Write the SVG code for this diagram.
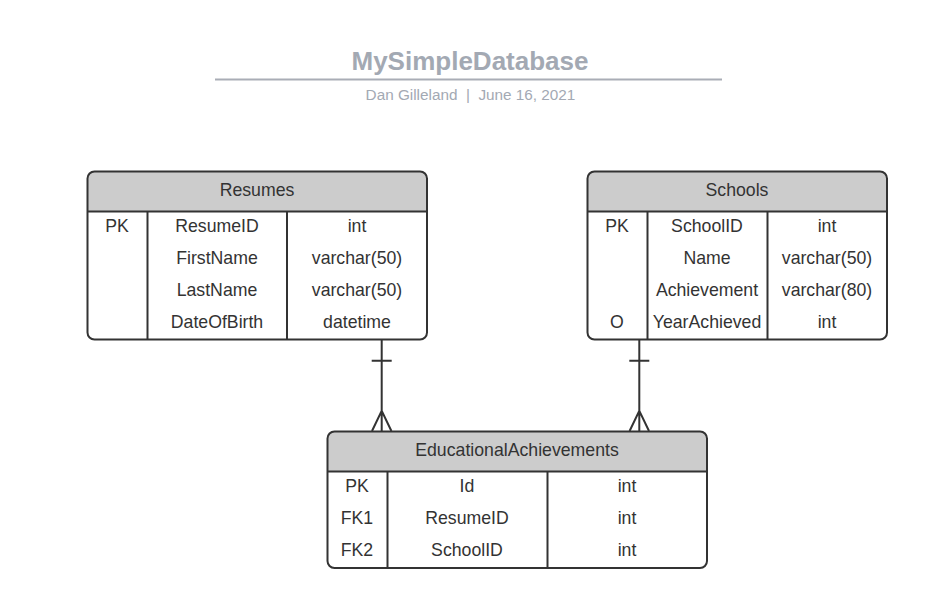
<svg xmlns="http://www.w3.org/2000/svg" width="934" height="608" viewBox="0 0 934 608">
<style>
.title{font-family:"Liberation Sans",Arial,sans-serif;font-weight:bold;font-size:26px;fill:#a3a9b3;text-anchor:middle}
.sub{font-family:"Liberation Sans",Arial,sans-serif;font-size:15.3px;fill:#a3a9b3;text-anchor:middle;white-space:pre}
.t{font-family:"Liberation Sans",Arial,sans-serif;font-size:17.7px;fill:#333333;text-anchor:middle}
.hdr{fill:#cccccc;stroke:none}
.box{fill:none;stroke:#333333;stroke-width:2}
.ln{stroke:#333333;stroke-width:2;fill:none}
</style>
<rect width="934" height="608" fill="#ffffff"/>
<g id="title">
<text class="title" x="470" y="70">MySimpleDatabase</text>
<line x1="215" y1="79.5" x2="722" y2="79.5" stroke="#a9adb6" stroke-width="2"/>
<text class="sub" x="470.5" y="100">Dan Gilleland  |  June 16, 2021</text>
</g>
<g id="resumes">
<rect x="87.5" y="171.5" width="339.5" height="168" rx="7" fill="#ffffff"/>
<path class="hdr" d="M87.5,211 V178.5 a7,7 0 0 1 7,-7 H420 a7,7 0 0 1 7,7 V211 Z"/>
<rect class="box" x="87.5" y="171.5" width="339.5" height="168" rx="7"/>
<line class="ln" x1="87.5" y1="211.5" x2="427" y2="211.5"/>
<line class="ln" x1="147.5" y1="211.5" x2="147.5" y2="339.5"/>
<line class="ln" x1="287" y1="211.5" x2="287" y2="339.5"/>
<text class="t" x="257" y="195.5">Resumes</text>
<text class="t" x="117" y="232">PK</text>
<text class="t" x="217" y="232">ResumeID</text>
<text class="t" x="357" y="232">int</text>
<text class="t" x="217" y="264">FirstName</text>
<text class="t" x="357" y="264">varchar(50)</text>
<text class="t" x="217" y="296">LastName</text>
<text class="t" x="357" y="296">varchar(50)</text>
<text class="t" x="217" y="328">DateOfBirth</text>
<text class="t" x="357" y="328">datetime</text>
</g>
<g id="schools">
<rect x="587.5" y="171.5" width="299.5" height="168" rx="7" fill="#ffffff"/>
<path class="hdr" d="M587.5,211 V178.5 a7,7 0 0 1 7,-7 H880 a7,7 0 0 1 7,7 V211 Z"/>
<rect class="box" x="587.5" y="171.5" width="299.5" height="168" rx="7"/>
<line class="ln" x1="587.5" y1="211.5" x2="887" y2="211.5"/>
<line class="ln" x1="647.5" y1="211.5" x2="647.5" y2="339.5"/>
<line class="ln" x1="767.5" y1="211.5" x2="767.5" y2="339.5"/>
<text class="t" x="737" y="195.5">Schools</text>
<text class="t" x="617" y="232">PK</text>
<text class="t" x="707" y="232">SchoolID</text>
<text class="t" x="827" y="232">int</text>
<text class="t" x="707" y="264">Name</text>
<text class="t" x="827" y="264">varchar(50)</text>
<text class="t" x="707" y="296">Achievement</text>
<text class="t" x="827" y="296">varchar(80)</text>
<text class="t" x="617" y="328">O</text>
<text class="t" x="707" y="328">YearAchieved</text>
<text class="t" x="827" y="328">int</text>
</g>
<g id="educationalachievements">
<rect x="327.5" y="431.5" width="379.5" height="136.5" rx="7" fill="#ffffff"/>
<path class="hdr" d="M327.5,471 V438.5 a7,7 0 0 1 7,-7 H700 a7,7 0 0 1 7,7 V471 Z"/>
<rect class="box" x="327.5" y="431.5" width="379.5" height="136.5" rx="7"/>
<line class="ln" x1="327.5" y1="471.5" x2="707" y2="471.5"/>
<line class="ln" x1="387.5" y1="471.5" x2="387.5" y2="568"/>
<line class="ln" x1="547.5" y1="471.5" x2="547.5" y2="568"/>
<text class="t" x="517" y="455.5">EducationalAchievements</text>
<text class="t" x="357" y="492">PK</text>
<text class="t" x="467" y="492">Id</text>
<text class="t" x="627" y="492">int</text>
<text class="t" x="357" y="524">FK1</text>
<text class="t" x="467" y="524">ResumeID</text>
<text class="t" x="627" y="524">int</text>
<text class="t" x="357" y="556">FK2</text>
<text class="t" x="467" y="556">SchoolID</text>
<text class="t" x="627" y="556">int</text>
</g>
<g id="connectors">
<path class="ln" d="M381.7,340 V431 M371.7,360.7 H391.7 M372,431 L381.7,410.7 L391.4,431"/>
<path class="ln" d="M639.3,340 V431 M629.3,360.7 H649.3 M629.6,431 L639.3,410.7 L649,431"/>
</g>
</svg>
